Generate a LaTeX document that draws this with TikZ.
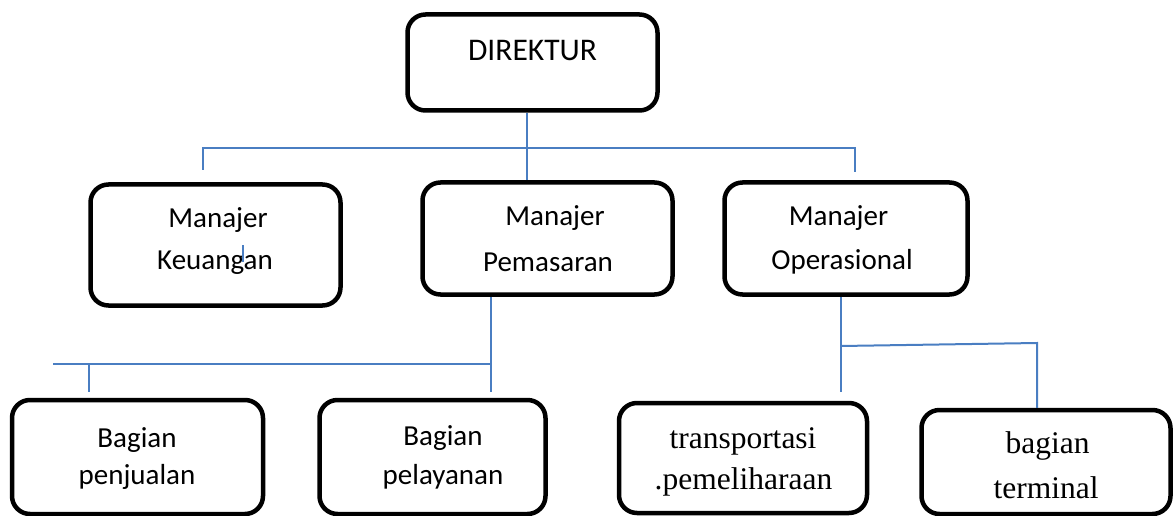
\documentclass[tikz,border=0pt]{standalone}
\usepackage{fontspec}
\newfontfamily\calfont{Carlito}
\newfontfamily\tmsfont{Liberation Serif}
\definecolor{conncol}{HTML}{4A7EC2}
\tikzset{
  box/.style={draw=black, fill=white, line width=4.5pt, rounded corners=18pt, rectangle, inner sep=0pt},
  lab/.style={font=\calfont\fontsize{29}{35}\selectfont, inner sep=0pt, anchor=center},
  labbig/.style={font=\calfont\fontsize{31.5}{37}\selectfont, inner sep=0pt, anchor=center},
  labt/.style={font=\tmsfont\fontsize{31.5}{37}\selectfont, inner sep=0pt, anchor=center},
  conn/.style={draw=conncol, line width=2pt}
}
\begin{document}
\begin{tikzpicture}[x=1pt,y=-1pt]
\useasboundingbox (0,0) rectangle (1176,516);
% boxes
\node[box, minimum width=250pt, minimum height=96pt] (dir) at (532.5,62.5) {};
\node[box, minimum width=250pt, minimum height=121pt] (keu) at (215.5,245) {};
\node[box, minimum width=250pt, minimum height=112pt] (pem) at (547.5,238.5) {};
\node[box, minimum width=243pt, minimum height=112pt] (ops) at (846,238.5) {};
\node[box, minimum width=251pt, minimum height=114pt] (penj) at (137.5,457) {};
\node[box, minimum width=226pt, minimum height=114pt] (pel) at (432.5,457) {};
\node[box, minimum width=248pt, minimum height=110pt] (trans) at (743,458) {};
\node[box, minimum width=249pt, minimum height=104pt] (term) at (1046,462) {};
% labels
\node[labbig] (tdir) at (532.5,51) {DIREKTUR};
\node[lab] (tkeu1) at (218,220) {Manajer};
\node[lab] (tkeu2) at (215,263) {Keuangan};
\node[lab] (tpem1) at (555,218) {Manajer};
\node[lab] (tpem2) at (548,262) {Pemasaran};
\node[lab] (tops1) at (838.5,218) {Manajer};
\node[lab] (tops2) at (842,262) {Operasional};
\node[lab] (tpenj1) at (137,440) {Bagian};
\node[lab] (tpenj2) at (137,477) {penjualan};
\node[lab] (tpel1) at (443,438) {Bagian};
\node[lab] (tpel2) at (443,477) {pelayanan};
\node[labt] (ttr1) at (743,441) {transportasi};
\node[labt] (ttr2) at (743.5,482) {.pemeliharaan};
\node[labt] (tte1) at (1047.5,446) {bagian};
\node[labt] (tte2) at (1046,488) {terminal};
% connector coordinates
\coordinate (busL) at (203,148);
\coordinate (busM) at (527,148);
\coordinate (busR) at (855,148);
\coordinate (kt) at (203,170);
\coordinate (ot) at (855,172);
\coordinate (pb) at (491,364);
\coordinate (pe) at (491,392);
\coordinate (pl) at (53,364);
\coordinate (pj) at (89,364);
\coordinate (pje) at (89,392);
\coordinate (ob) at (841,346);
\coordinate (oe) at (841,392);
\coordinate (or) at (1037,343);
\coordinate (tickA) at (243,245);
\coordinate (tickB) at (243,262);
% connectors
\draw[conn] (kt) -- (busL) -- (busR) -- (ot);
\draw[conn] (dir.south -| busM) -- (pem.north -| busM);
\draw[conn] (pem.south -| pb) -- (pe);
\draw[conn] (pl) -- (pb);
\draw[conn] (pj) -- (pje);
\draw[conn] (ops.south -| ob) -- (oe);
\draw[conn] (ob) -- (or) -- (term.north -| or);
\draw[conn] (tickA) -- (tickB);
\end{tikzpicture}
\end{document}
